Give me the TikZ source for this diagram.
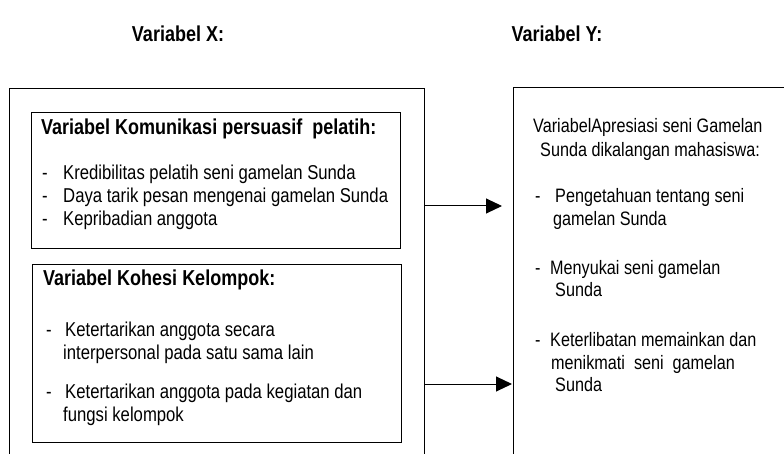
\documentclass[tikz,border=0pt]{standalone}
\usepackage{fontspec}
\setmainfont{Liberation Sans}
\usetikzlibrary{arrows.meta}
\newcommand{\tegak}[1]{\scalebox{1}[1.2]{#1}}
\begin{document}
\begin{tikzpicture}[x=1pt, y=-1pt,
	teks/.style={anchor=base west, inner sep=0pt, font=\fontsize{16.7}{20}\selectfont},
	teksy/.style={teks, font=\fontsize{16.2}{20}\selectfont},
	judul/.style={teks, font=\fontsize{18}{20}\selectfont\bfseries},
	kotak/.style={draw, line width=1pt, anchor=north west, inner sep=0pt},
	panah/.style={-{Triangle[length=16pt, width=15pt]}, line width=1pt}]
	\useasboundingbox (0, 0) rectangle (784, 454);
	% judul
	\node[judul, anchor=base] (judulx) at (178, 42) {\tegak{Variabel X:}};
	\node[judul, anchor=base] (juduly) at (557, 42) {\tegak{Variabel Y:}};
	% kotak luar
	\draw[line width=1pt] (9, 455) -- (9, 89) -- (424, 89) -- (424, 455);
	\draw[line width=1pt] (513, 455) -- (513, 88) -- (786, 88);
	% kotak komunikasi
	\node[kotak, minimum width=369pt, minimum height=136pt] (komunikasi) at (31, 112) {};
	\node[judul] (k0) at (41, 135) {\tegak{Variabel Komunikasi persuasif\ \ pelatih:}};
	\node[teks] (kd1) at (42, 180) {\tegak{-}};
	\node[teks] (k1) at (63, 180) {\tegak{Kredibilitas pelatih seni gamelan Sunda}};
	\node[teks] (kd2) at (42, 203) {\tegak{-}};
	\node[teks] (k2) at (63, 203) {\tegak{Daya tarik pesan mengenai gamelan Sunda}};
	\node[teks] (kd3) at (42, 226) {\tegak{-}};
	\node[teks] (k3) at (63, 226) {\tegak{Kepribadian anggota}};
	% kotak kohesi
	\node[kotak, minimum width=369pt, minimum height=178pt] (kohesi) at (32, 264) {};
	\node[judul] (h0) at (43, 286) {\tegak{Variabel Kohesi Kelompok:}};
	\node[teks] (hd1) at (46, 336) {\tegak{-}};
	\node[teks] (h1) at (65, 336) {\tegak{Ketertarikan anggota secara}};
	\node[teks] (h1b) at (63, 359) {\tegak{interpersonal pada satu sama lain}};
	\node[teks] (hd2) at (46, 398) {\tegak{-}};
	\node[teks] (h2) at (65, 398) {\tegak{Ketertarikan anggota pada kegiatan dan}};
	\node[teks] (h2b) at (63, 421) {\tegak{fungsi kelompok}};
	% variabel y
	\node[teksy] (y0) at (533, 133) {\tegak{VariabelApresiasi seni Gamelan}};
	\node[teksy] (y0b) at (540, 157) {\tegak{Sunda dikalangan mahasiswa:}};
	\node[teksy] (yd1) at (535, 203) {\tegak{-}};
	\node[teksy] (y1) at (555, 203) {\tegak{Pengetahuan tentang seni}};
	\node[teksy] (y1b) at (553, 226) {\tegak{gamelan Sunda}};
	\node[teksy] (yd2) at (535, 274) {\tegak{-}};
	\node[teksy] (y2) at (550, 274) {\tegak{Menyukai seni gamelan}};
	\node[teksy] (y2b) at (555, 297) {\tegak{Sunda}};
	\node[teksy] (yd3) at (535, 346) {\tegak{-}};
	\node[teksy] (y3) at (550, 346) {\tegak{Keterlibatan memainkan dan}};
	\node[teksy] (y3b) at (551, 369) {\tegak{menikmati\ \ seni\ \ gamelan}};
	\node[teksy] (y3c) at (555, 391) {\tegak{Sunda}};
	% panah
	\coordinate (xa) at (424, 206);
	\coordinate (ya) at (502, 206);
	\coordinate (xb) at (424, 384);
	\coordinate (yb) at (512, 384);
	\draw[panah] (xa) -- (ya);
	\draw[panah] (xb) -- (yb);
\end{tikzpicture}
\end{document}
